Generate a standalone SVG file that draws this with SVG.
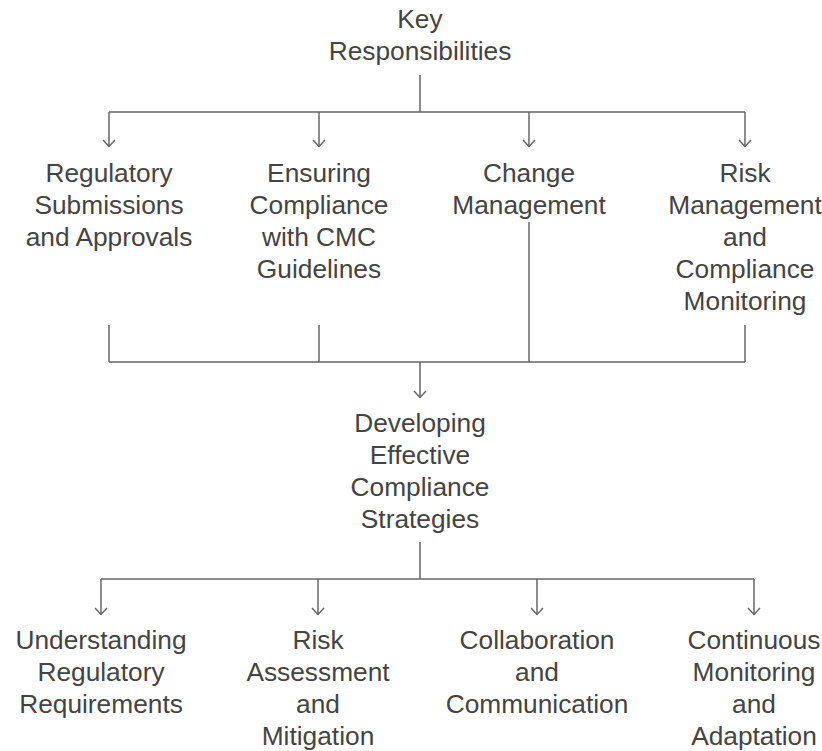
<svg xmlns="http://www.w3.org/2000/svg" width="822" height="751" viewBox="0 0 822 751">
<defs>
<style>
text{font-family:"Liberation Sans",Arial,sans-serif;font-size:26.3px;fill:#444;text-anchor:middle}
.c{fill:none;stroke:#666;stroke-width:1.5}
</style>
<marker id="ah" markerUnits="userSpaceOnUse" markerWidth="10" markerHeight="14" refX="9" refY="7" orient="auto" viewBox="0 0 10 14">
<polyline points="2,1 8.5,7 2,13" fill="none" stroke="#666" stroke-width="1.5"/>
</marker>
</defs>
<rect width="822" height="751" fill="#fff"/>
<g id="connectors">
<path class="c" d="M420 75V112M109 112H745"/>
<path class="c" d="M109 112V147" marker-end="url(#ah)"/>
<path class="c" d="M319 112V147" marker-end="url(#ah)"/>
<path class="c" d="M529 112V147" marker-end="url(#ah)"/>
<path class="c" d="M745 112V147" marker-end="url(#ah)"/>
<path class="c" d="M109 325V362M319 325V362M529 222V362M745 325V362M109 362H745"/>
<path class="c" d="M420 362V398" marker-end="url(#ah)"/>
<path class="c" d="M420 542V579M101 579H754"/>
<path class="c" d="M101 579V615" marker-end="url(#ah)"/>
<path class="c" d="M318 579V615" marker-end="url(#ah)"/>
<path class="c" d="M537 579V615" marker-end="url(#ah)"/>
<path class="c" d="M754 579V615" marker-end="url(#ah)"/>
</g>
<g id="root"><text x="420" y="28">Key</text><text x="420" y="60">Responsibilities</text></g>
<g id="n1"><text x="109" y="182">Regulatory</text><text x="109" y="214">Submissions</text><text x="109" y="246">and Approvals</text></g>
<g id="n2"><text x="319" y="182">Ensuring</text><text x="319" y="214">Compliance</text><text x="319" y="246">with CMC</text><text x="319" y="278">Guidelines</text></g>
<g id="n3"><text x="529" y="182">Change</text><text x="529" y="214">Management</text></g>
<g id="n4"><text x="745" y="182">Risk</text><text x="745" y="214">Management</text><text x="745" y="246">and</text><text x="745" y="278">Compliance</text><text x="745" y="310">Monitoring</text></g>
<g id="mid"><text x="420" y="432">Developing</text><text x="420" y="464">Effective</text><text x="420" y="496">Compliance</text><text x="420" y="528">Strategies</text></g>
<g id="b1"><text x="101" y="649">Understanding</text><text x="101" y="681">Regulatory</text><text x="101" y="713">Requirements</text></g>
<g id="b2"><text x="318" y="649">Risk</text><text x="318" y="681">Assessment</text><text x="318" y="713">and</text><text x="318" y="745">Mitigation</text></g>
<g id="b3"><text x="537" y="649">Collaboration</text><text x="537" y="681">and</text><text x="537" y="713">Communication</text></g>
<g id="b4"><text x="754" y="649">Continuous</text><text x="754" y="681">Monitoring</text><text x="754" y="713">and</text><text x="754" y="745">Adaptation</text></g>
</svg>
